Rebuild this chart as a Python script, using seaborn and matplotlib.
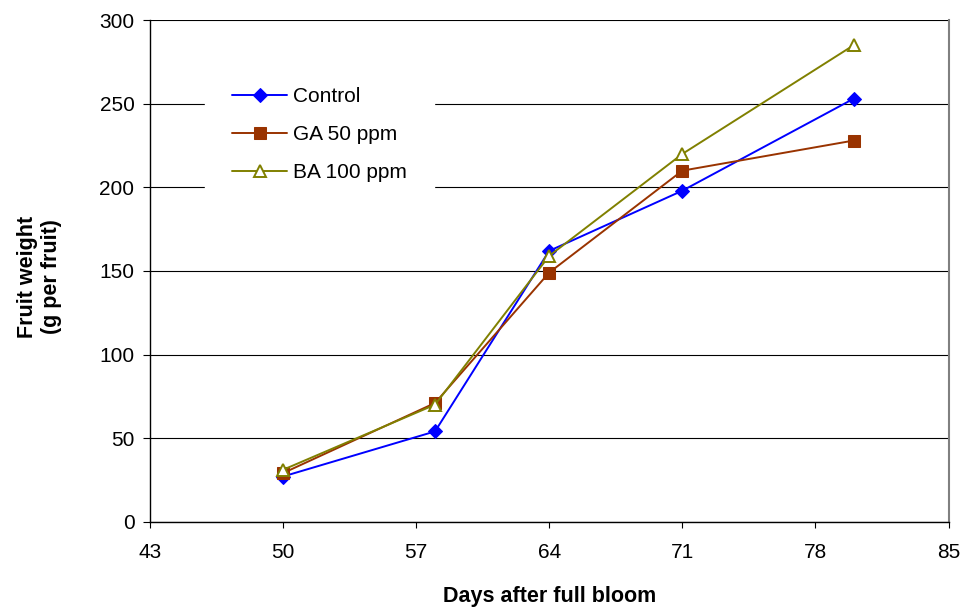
import matplotlib
matplotlib.use("Agg")
import matplotlib.pyplot as plt
import seaborn as sns
import pandas as pd

# Days after full bloom and fruit weight (g per fruit) per treatment
days = [50, 58, 64, 71, 80]
control = [27, 54, 162, 198, 253]
ga_50 = [29, 71, 149, 210, 228]
ba_100 = [31, 70, 159, 220, 285]

treatments = ["Control", "GA 50 ppm", "BA 100 ppm"]
series = [control, ga_50, ba_100]

x_ticks = [43, 50, 57, 64, 71, 78, 85]
y_ticks = [0, 50, 100, 150, 200, 250, 300]

df = pd.DataFrame({
    "day": days * len(treatments),
    "weight": [v for s in series for v in s],
    "treatment": [t for t in treatments for _ in days],
})

sns.set_theme(style="white")
plt.rcParams["font.family"] = ["Liberation Sans", "DejaVu Sans"]

fig = plt.figure(figsize=(9.66, 6.13), dpi=100)
ax = fig.add_axes([0.155, 0.149, 0.827, 0.818])

styles = {
    "Control": dict(color="#0000FF", marker="D", markersize=7,
                    markerfacecolor="#0000FF", markeredgecolor="#0000FF"),
    "GA 50 ppm": dict(color="#993300", marker="s", markersize=8.2,
                      markerfacecolor="#993300", markeredgecolor="#993300"),
    "BA 100 ppm": dict(color="#808000", marker="^", markersize=8.8,
                       markerfacecolor="white", markeredgecolor="#808000",
                       markeredgewidth=1.4),
}

for t in treatments:
    sub = df[df["treatment"] == t]
    sns.lineplot(data=sub, x="day", y="weight", ax=ax, label=t,
                 linewidth=1.4, **styles[t])

ax.set_xlim(43, 85)
ax.set_ylim(0, 300)
ax.set_xticks(x_ticks)
ax.set_yticks(y_ticks)
ax.tick_params(axis="both", which="major", labelsize=15, direction="out",
               width=0.8, color="black", bottom=True, left=True,
               labelcolor="black")
ax.tick_params(axis="x", length=4.5, pad=11)
ax.tick_params(axis="y", length=5, pad=6)

ax.yaxis.grid(True, color="black", linewidth=0.8)
ax.xaxis.grid(False)
ax.set_axisbelow(True)

for side in ["left", "bottom"]:
    ax.spines[side].set_color("black")
    ax.spines[side].set_linewidth(1.0)
ax.spines["top"].set_visible(False)
ax.spines["right"].set_color("#808080")
ax.spines["right"].set_linewidth(1.5)

ax.set_xlabel("Days after full bloom", fontsize=15.5, fontweight="bold",
              labelpad=17, color="black")
ax.set_ylabel("Fruit weight\n(g per fruit)", fontsize=15.5,
              fontweight="bold", color="black")
ax.yaxis.set_label_coords(-0.110, 0.489)

leg = ax.legend(loc="upper left", bbox_to_anchor=(0.069, 0.92),
                frameon=True, fancybox=False, facecolor="white",
                edgecolor="white", framealpha=1, fontsize=15,
                handlelength=2.65, labelspacing=0.9, handletextpad=0.3,
                borderpad=1.3, borderaxespad=0)
for txt in leg.get_texts():
    txt.set_color("black")

fig.savefig("out.png", dpi=100)
